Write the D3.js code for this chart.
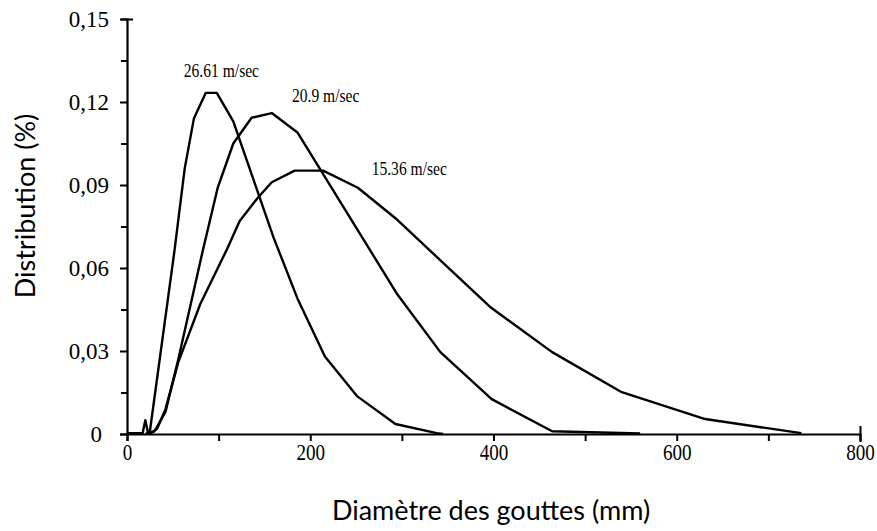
<!DOCTYPE html>
<html lang="fr">
<head>
<meta charset="UTF-8">
<script src="https://d3js.org/d3.v7.min.js"></script>
<title>Distribution des gouttes</title>
<style>
  body { margin: 0; background: #fff; }
</style>
</head>
<body>
<svg id="chart" width="877" height="531"></svg>
<script>
// diameter (mm) / distribution values
const s2661 = [[0,0.0003],[17,0.0003],[20,0.005],[23,0.0003],[25,0.001],[52,0.0667],[63,0.096],[73,0.114],[86,0.1233],[98,0.1233],[116,0.113],[160,0.071],[186,0.049],[216,0.028],[251,0.0137],[293,0.0036],[338,0.0003],[345,0]];
const s209 = [[20,0],[30,0.001],[42,0.008],[56,0.027],[83,0.0667],[99,0.089],[116,0.105],[136,0.1143],[158,0.116],[186,0.109],[295,0.0505],[342,0.0296],[398,0.0126],[464,0.001],[560,0.0002]];
const s1536 = [[25,0],[33,0.002],[42,0.009],[56,0.026],[80,0.047],[109,0.0667],[123,0.077],[143,0.0855],[158,0.091],[183,0.0952],[214,0.0952],[252,0.089],[293,0.078],[396,0.046],[464,0.0296],[540,0.0151],[631,0.0054],[736,0.0003]];

const seriesNames = ["26.61 m/sec", "20.9 m/sec", "15.36 m/sec"];
const labelAt = [[62, 0.129], [180, 0.120], [267, 0.0936]];

const xTicks = [0, 200, 400, 600, 800];
const xMinor = [100, 300, 500, 700];
const yTicks = [0, 0.03, 0.06, 0.09, 0.12, 0.15];
const yTickLabels = ["0", "0,03", "0,06", "0,09", "0,12", "0,15"];
const yMinor = [0.015, 0.045, 0.075, 0.105, 0.135];

const svg = d3.select("#chart");

const x = d3.scaleLinear().domain([0, 800]).range([127, 860]);
const y = d3.scaleLinear().domain([0, 0.15]).range([434, 19]);

// axes
const yAxis = svg.append("g")
    .attr("transform", "translate(" + x(0) + ",0)")
    .call(d3.axisLeft(y).tickValues(yTicks).tickSize(7).tickPadding(11)
        .tickFormat((d, i) => yTickLabels[i]));
const yAxisMinor = svg.append("g")
    .attr("transform", "translate(" + x(0) + ",0)")
    .call(d3.axisLeft(y).tickValues(yMinor).tickSize(6).tickFormat(""));

const xAxis = svg.append("g")
    .attr("transform", "translate(0," + y(0) + ")")
    .call(d3.axisBottom(x).tickValues(xTicks).tickSize(7).tickPadding(3)
        .tickFormat(d3.format("d")));
const xAxisMinor = svg.append("g")
    .attr("transform", "translate(0," + y(0) + ")")
    .call(d3.axisBottom(x).tickValues(xMinor).tickSize(7).tickFormat(""));

svg.selectAll(".domain").attr("stroke", "#000").attr("stroke-width", 2.2);
svg.selectAll(".tick line").attr("stroke", "#000").attr("stroke-width", 2);
yAxisMinor.select(".domain").remove();
xAxisMinor.select(".domain").remove();

yAxis.selectAll(".tick text")
    .attr("font-family", "Liberation Serif, Times New Roman, serif")
    .attr("font-size", 23)
    .attr("fill", "#000");
yAxis.selectAll(".tick text").filter(d => d === 0).attr("dx", -7);
// top tick crosses the axis
yAxis.selectAll(".tick").filter(d => d === 0.15).select("line").attr("x2", -6).attr("x1", 6);

xAxis.selectAll(".tick text")
    .attr("font-family", "Liberation Serif, Times New Roman, serif")
    .attr("font-size", 23)
    .attr("fill", "#000")
    .attr("transform", "scale(0.83,1)");
xAxis.selectAll(".tick").filter(d => d === 800).select("line").attr("y1", -8).attr("y2", 8);

// curves
const line = d3.line().x(d => x(d[0])).y(d => y(d[1]));
[s2661, s209, s1536].forEach(function(s) {
    svg.append("path")
        .datum(s)
        .attr("d", line)
        .attr("fill", "none")
        .attr("stroke", "#000")
        .attr("stroke-width", 2.4)
        .attr("stroke-linejoin", "round");
});

// curve labels
svg.selectAll(".clabel")
    .data(seriesNames)
    .enter().append("text")
    .attr("class", "clabel")
    .attr("transform", (d, i) => "translate(" + x(labelAt[i][0]) + "," + y(labelAt[i][1]) + ") scale(0.82,1)")
    .attr("font-family", "Liberation Serif, Times New Roman, serif")
    .attr("font-size", 19)
    .attr("fill", "#000")
    .text(d => d);

// axis titles
svg.append("text")
    .attr("x", 491)
    .attr("y", 520)
    .attr("text-anchor", "middle")
    .attr("font-family", "Lato, Open Sans, sans-serif")
    .attr("font-size", 27)
    .attr("fill", "#000")
    .text("Diamètre des gouttes (mm)");

svg.append("text")
    .attr("transform", "translate(35,206) rotate(-90)")
    .attr("text-anchor", "middle")
    .attr("font-family", "Lato, Open Sans, sans-serif")
    .attr("font-size", 27)
    .attr("fill", "#000")
    .text("Distribution (%)");
</script>
</body>
</html>
